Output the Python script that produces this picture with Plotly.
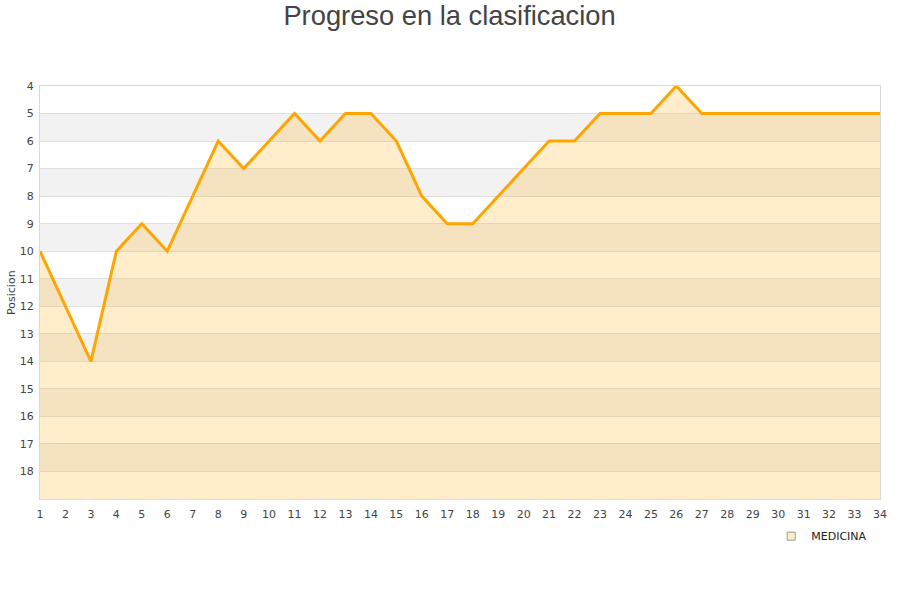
import plotly.graph_objects as go

jornadas = list(range(1, 35))
posicion = [10, 12, 14, 10, 9, 10, 8, 6, 7, 6, 5, 6, 5, 5, 6, 8, 9, 9, 8, 7,
            6, 6, 5, 5, 5, 4, 5, 5, 5, 5, 5, 5, 5, 5]
equipo = "MEDICINA"
y_ticks = list(range(4, 19))
bandas = [(5, 6), (7, 8), (9, 10), (11, 12), (13, 14), (15, 16), (17, 18)]
fondo = 19

fig = go.Figure()

# base invisible para rellenar hasta el fondo (eje invertido)
fig.add_trace(go.Scatter(x=jornadas, y=[fondo] * len(jornadas), mode="lines",
                         line=dict(width=0), showlegend=False, hoverinfo="skip"))
fig.add_trace(go.Scatter(x=jornadas, y=posicion, mode="lines", name=equipo,
                         fill="tonexty", fillcolor="rgba(255,165,0,0.2)",
                         line=dict(color="#FFA500", width=3), showlegend=False))
# entrada de leyenda con cuadrado
fig.add_trace(go.Scatter(x=[None], y=[None], mode="markers", name=equipo,
                         marker=dict(symbol="square", size=8, color="#FFEDCA",
                                     line=dict(color="#999999", width=1))))

for a, b in bandas:
    fig.add_shape(type="rect", xref="paper", yref="y", x0=0, x1=1, y0=a, y1=b,
                  fillcolor="#F2F2F2", line=dict(width=0), layer="below")

fig.add_annotation(text="Posicion", xref="paper", yref="paper", x=-0.034, y=0.5,
                   textangle=-90, showarrow=False, xanchor="center", yanchor="middle",
                   font=dict(family="DejaVu Sans", size=11, color="#444444"))

fig.update_layout(
    width=900, height=600,
    title=dict(text="Progreso en la clasificacion", x=0.4995, xanchor="center",
               y=0.975, yanchor="middle", yref="container",
               font=dict(family="Liberation Sans, Arial", size=27.3, color="#444444")),
    font=dict(family="DejaVu Sans", size=11, color="#444444"),
    plot_bgcolor="white", paper_bgcolor="white",
    margin=dict(l=40, r=20, t=86, b=101),
    legend=dict(x=0.8705, y=-0.09, xanchor="left", yanchor="middle",
                font=dict(family="DejaVu Sans", size=11, color="#222222"),
                bgcolor="rgba(0,0,0,0)"),
)
fig.update_xaxes(range=[1, 34], tickvals=jornadas, showgrid=False, zeroline=False,
                 showline=True, linecolor="#D9D9D9", linewidth=1, mirror=True,
                 ticks="outside", ticklen=5, tickcolor="rgba(0,0,0,0)", automargin=False)
fig.update_yaxes(range=[fondo, 4], tickvals=y_ticks, showgrid=True, gridcolor="#E0E0E0",
                 zeroline=False, showline=True, linecolor="#D9D9D9", linewidth=1, mirror=True,
                 ticks="outside", ticklen=3, tickcolor="rgba(0,0,0,0)", automargin=False)

# sin margen del body para que la figura ocupe la ventana desde (0, 0)
fig.write_html("out.html", config={"displayModeBar": False},
               post_script="document.body.style.margin='0';")
